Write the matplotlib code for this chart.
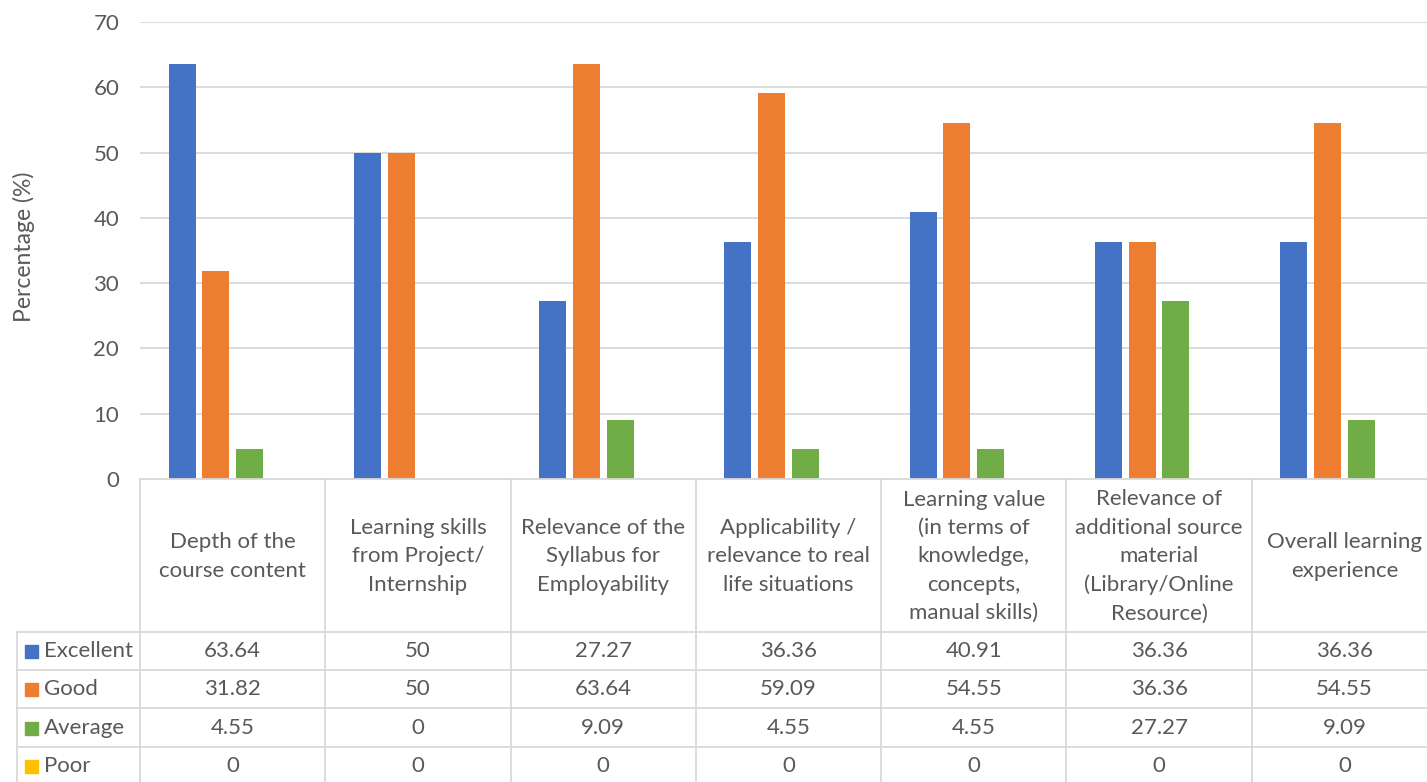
import matplotlib.pyplot as plt
import numpy as np

# dados
categorias = [
    "Depth of the\ncourse content",
    "Learning skills\nfrom Project/\nInternship",
    "Relevance of the\nSyllabus for\nEmployability",
    "Applicability /\nrelevance to real\nlife situations",
    "Learning value\n(in terms of\nknowledge,\nconcepts,\nmanual skills)",
    "Relevance of\nadditional source\nmaterial\n(Library/Online\nResource)",
    "Overall learning\nexperience",
]
series = ["Excellent", "Good", "Average", "Poor"]
excellent = [63.64, 50, 27.27, 36.36, 40.91, 36.36, 36.36]
good = [31.82, 50, 63.64, 59.09, 54.55, 36.36, 54.55]
average = [4.55, 0, 9.09, 4.55, 4.55, 27.27, 9.09]
poor = [0, 0, 0, 0, 0, 0, 0]
valores = [excellent, good, average, poor]
cores = ["#4472C4", "#ED7D31", "#70AD47", "#FFC000"]

W, H = 1427, 782
fig = plt.figure(figsize=(W / 100, H / 100), dpi=100)
plt.rcParams['font.family'] = ['Lato', 'DejaVu Sans']
txt = "#595959"
grade = "#d9d9d9"
fs = 16

# eixo principal (pixels: x 140..1437, y 22..479)
x0, x1, ytop, ybase = 140, 1437, 22, 479
ax = fig.add_axes([x0 / W, (H - ybase) / H, (x1 - x0) / W, (ybase - ytop) / H])
n = len(categorias)
x = np.arange(n)
passo, largura = 0.182, 0.146
for k, (vals, cor) in enumerate(zip(valores, cores)):
    ax.bar(x + (k - 1.5) * passo, vals, width=largura, color=cor, zorder=3)
ax.set_xlim(-0.5, n - 0.5)
ax.set_ylim(0, 70)
ax.set_yticks(range(0, 71, 10))
ax.yaxis.grid(True, color=grade, linewidth=1.3, zorder=0)
ax.set_xticks([])
ax.tick_params(axis='y', length=0, pad=15, labelsize=fs, labelcolor=txt)
for s in ax.spines.values():
    s.set_visible(False)
fig.text(24 / W, 1 - 247 / H, "Percentage (%)", rotation=90, ha='center', va='center',
         fontsize=16.5, color=txt)

# tabela de dados embaixo
tb = fig.add_axes([x0 / W, 0, (x1 - x0) / W, (H - ybase) / H])
tb.set_xlim(-0.5, n - 0.5)
tb.set_ylim(H, ybase)
tb.axis('off')
px = (n) / (x1 - x0)  # unidades de dados por pixel
xleg = -0.5 - (x0 - 17) * px
linhas = [632, 670, 708, 747]
lw = 1.3
tb.plot([-0.5, n - 0.5], [ybase, ybase], color=grade, lw=lw, clip_on=False)
for yl in linhas:
    tb.plot([xleg, n - 0.5], [yl, yl], color=grade, lw=lw, clip_on=False)
for k in range(n + 1):
    tb.plot([-0.5 + k, -0.5 + k], [ybase, H], color=grade, lw=lw, clip_on=False)
tb.plot([xleg, xleg], [linhas[0], H], color=grade, lw=lw, clip_on=False)

for i, c in enumerate(categorias):
    tb.text(i, (ybase + linhas[0]) / 2 + 1, c, ha='center', va='center', fontsize=fs,
            color=txt, linespacing=1.52)

centros = [651, 689, 728, 766]
for r, (nome, vals, cor) in enumerate(zip(series, valores, cores)):
    yc = centros[r]
    tb.add_patch(plt.Rectangle((-0.5 - 115 * px, yc - 6.5), 13 * px, 13, color=cor,
                               clip_on=False))
    tb.text(-0.5 - 96 * px, yc, nome, ha='left', va='center', fontsize=fs, color=txt)
    for i, v in enumerate(vals):
        tb.text(i, yc, f"{v:g}", ha='center', va='center', fontsize=fs, color=txt)

fig.savefig("out.png", dpi=100)
